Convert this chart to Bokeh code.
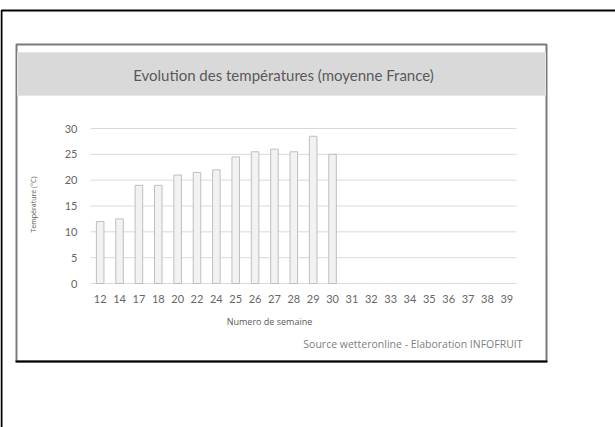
from bokeh.plotting import figure
from bokeh.models import Range1d, BoxAnnotation, Label, FixedTicker, LinearAxis
from bokeh.embed import file_html
from bokeh.resources import INLINE

# ---- data ----
weeks = ["12", "14", "17", "18", "20", "22", "24", "25", "26", "27", "28", "29", "30",
         "31", "32", "33", "34", "35", "36", "37", "38", "39"]
temperatures = [12, 12.5, 19, 19, 21, 21.5, 22, 24.5, 25.5, 26, 25.5, 28.5, 25]
y_ticks = [0, 5, 10, 15, 20, 25, 30]
y_max = 30

title_text = "Evolution des températures (moyenne France)"
y_label_text = "Température (°C)"
x_label_text = "Numero de semaine"
source_text = "Source wetteronline - Elaboration INFOFRUIT"

# ---- layout (page pixels) ----
W, H = 615, 427
FL, FR, FT, FB = 90, 516, 128, 283   # chart plot-area edges

n = len(weeks)
cw = (FR - FL) / n
ppu = (FB - FT) / y_max

p = figure(width=W, height=H, x_range=Range1d(0, W), y_range=Range1d(H, 0),
           x_axis_type=None, y_axis_type=None, min_border=0,
           output_backend="svg", toolbar_location=None)
p.outline_line_color = None
p.background_fill_color = "white"
p.border_fill_color = "white"
p.xgrid.visible = False
p.ygrid.visible = False

p.extra_x_ranges = {"wk": Range1d(start=-FL / cw - 0.5, end=(W - FL) / cw - 0.5)}
p.extra_y_ranges = {"temp": Range1d(start=-(H - FB) / ppu, end=FB / ppu)}

# ---- decorations ----
# outer frame (top & left lines)
p.add_layout(BoxAnnotation(left=1, right=700, top=10, bottom=700,
                           fill_alpha=0, line_color="black", line_alpha=1, line_width=2,
                           level="underlay"))
# inner chart box
p.add_layout(BoxAnnotation(left=16, right=546, top=44, bottom=361,
                           fill_alpha=0, line_color="#7a7a7a", line_alpha=1, line_width=2,
                           level="underlay"))
p.add_layout(BoxAnnotation(left=15, right=547, top=360, bottom=362,
                           fill_color="black", fill_alpha=1, line_alpha=0,
                           level="underlay"))
# title band
p.add_layout(BoxAnnotation(left=17, right=545, top=52, bottom=95,
                           fill_color="#d9d9d9", fill_alpha=1, line_color="#e6e6e6",
                           line_alpha=1, line_width=1, level="underlay"))

# ---- grid lines ----
p.segment(x0=[-0.5] * len(y_ticks), x1=[n - 0.5] * len(y_ticks), y0=y_ticks, y1=y_ticks,
          x_range_name="wk", y_range_name="temp", line_color="#d9d9d9", line_width=1)

# ---- bars ----
p.vbar(x=list(range(len(temperatures))), top=temperatures, width=0.39, bottom=0,
       x_range_name="wk", y_range_name="temp",
       fill_color="#f2f2f2", line_color="#bfbfbf", line_width=1)

# ---- axes ----
tick_font = "Lato"
xaxis = LinearAxis(x_range_name="wk", y_range_name="temp", fixed_location=0,
                   ticker=FixedTicker(ticks=list(range(n))),
                   major_label_overrides={i: w for i, w in enumerate(weeks)})
yaxis = LinearAxis(x_range_name="wk", y_range_name="temp", fixed_location=-0.5,
                   ticker=FixedTicker(ticks=y_ticks))
for ax in (xaxis, yaxis):
    ax.axis_line_color = None
    ax.major_tick_line_color = None
    ax.minor_tick_line_color = None
    ax.major_label_text_color = "#666666"
    ax.major_label_text_font = tick_font
    ax.major_label_text_font_size = "11px"
xaxis.major_label_standoff = 5
yaxis.major_label_standoff = 7
p.add_layout(xaxis, "below")
p.add_layout(yaxis, "left")

# ---- texts ----
p.add_layout(Label(x=283, y=74, text=title_text, text_align="center", text_baseline="middle",
                   text_font="Lato", text_font_size="15px", text_color="#595959"))
p.add_layout(Label(x=33, y=204, text=y_label_text, text_align="center", text_baseline="middle",
                   angle=1.5708, text_font="Open Sans", text_font_size="7px",
                   text_color="#595959"))
p.add_layout(Label(x=269, y=321, text=x_label_text, text_align="center", text_baseline="middle",
                   text_font="Open Sans", text_font_size="9px", text_color="#595959"))
p.add_layout(Label(x=522, y=343, text=source_text, text_align="right", text_baseline="middle",
                   text_font="Open Sans", text_font_size="10.5px", text_color="#808080"))

open("out.html", "w").write(file_html(p, INLINE))
